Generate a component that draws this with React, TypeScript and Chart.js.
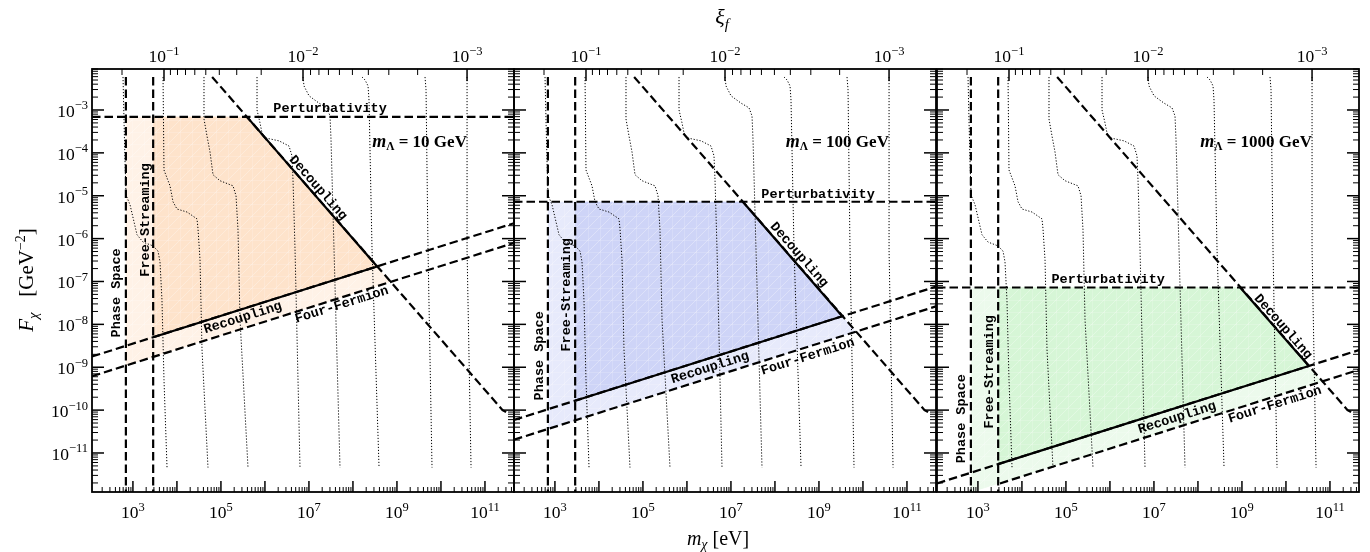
import React, { useEffect, useRef } from "react";
import { Chart, registerables } from "chart.js";

Chart.register(...registerables);

const CANVAS_W = 1370;
const CANVAS_H = 552;
const PANEL_LEFTS = [92, 514, 937];
const PANEL_W = 422;
const PANEL_TOP = 69;
const PANEL_BOTTOM = 492;

// axis ranges, log10 units
const X_RANGE_LOG = [2.07, 11.66];
const Y_RANGE_LOG = [-11.91, -2.044];

// ================= DATA (log10 mχ [eV], log10 Fχ [GeV^-2]) =================
const mLambdaGeV = ["10", "100", "1000"];
const bottomTickExponents = [3, 5, 7, 9, 11];
const leftTickExponents = [-3, -4, -5, -6, -7, -8, -9, -10, -11];
const xiMajorLabels = ["−1", "−2", "−3"];
const xiMajorLogMass = [3.706, 6.865, 10.593];
const xiMinorLogMass = [2.752, 3.852, 4.013, 4.195, 4.406, 4.656, 4.963, 5.359, 5.915,
  7.036, 7.227, 7.443, 7.693, 7.988, 8.35, 8.815, 9.47];

const perturbativity = [
  [[2.07, -3.16], [11.66, -3.16]],
  [[2.07, -5.14], [11.66, -5.14]],
  [[2.07, -7.14], [11.66, -7.14]],
];
const recoupling = [
  [[2.07, -8.75], [11.66, -5.64]],
  [[2.07, -10.23], [11.66, -7.12]],
  [[2.07, -11.71], [11.66, -8.6]],
];
const fourFermion = [
  [[2.07, -9.21], [11.66, -6.1]],
  [[2.07, -10.69], [11.66, -7.58]],
  [[3.5, -11.71], [11.66, -9.06]],
];
const decoupling = [[4.8, -2.23], [11.4, -10.0], [11.52, -10.07]];
const phaseSpace = [[2.84, -2.23], [2.84, -12.5]];
const freeStreaming = [[3.46, -2.23], [3.46, -12.5]];
const decouplingEdge = [
  [[5.59, -3.16], [8.55, -6.65]],
  [[7.27, -5.14], [9.53, -7.81]],
  [[8.96, -7.14], [10.52, -8.97]],
];
const recouplingEdge = [
  [[3.46, -8.3], [8.55, -6.65]],
  [[3.46, -9.78], [9.53, -7.81]],
  [[3.46, -11.26], [10.52, -8.97]],
];
const allowedRegion = [
  [[3.46, -8.3], [3.46, -3.16], [5.59, -3.16], [8.55, -6.65]],
  [[3.46, -9.78], [3.46, -5.14], [7.27, -5.14], [9.53, -7.81]],
  [[3.46, -11.26], [3.46, -7.14], [8.96, -7.14], [10.52, -8.97]],
];
const extendedRegion = [
  [[2.84, -8.96], [2.84, -3.16], [5.59, -3.16], [8.85, -7.01]],
  [[2.84, -10.44], [2.84, -5.14], [7.27, -5.14], [9.84, -8.17]],
  [[2.84, -11.92], [2.84, -7.14], [8.96, -7.14], [10.82, -9.34]],
];
// ξ_f contours (same in every panel)
const xiContour1 = [[2.775, -2.23], [2.797, -3.23], [2.82, -4.17], [2.843, -4.98], [2.934, -5.21], [3.093, -5.91], [3.229, -6.08], [3.456, -6.17], [3.57, -6.29], [3.615, -6.54], [3.66, -7.43], [3.706, -9.29], [3.775, -11.34]];
const xiContour2 = [[3.684, -2.23], [3.706, -4.4], [3.843, -4.77], [3.911, -5.14], [4.002, -5.31], [4.229, -5.38], [4.456, -5.54], [4.479, -5.77], [4.525, -6.5], [4.57, -8.59], [4.706, -11.34]];
const xiContour3 = [[4.615, -2.23], [4.615, -3.21], [4.684, -3.61], [4.752, -3.98], [4.82, -4.51], [4.979, -4.65], [5.275, -4.77], [5.343, -5.0], [5.388, -5.8], [5.434, -7.89], [5.615, -11.34]];
const xiContour4 = [[5.82, -2.23], [5.82, -3.0], [5.888, -3.3], [5.934, -3.54], [6.002, -3.65], [6.32, -3.72], [6.547, -3.84], [6.615, -4.07], [6.638, -4.63], [6.684, -6.26], [6.797, -11.34]];
const xiContour5 = [[6.865, -2.23], [6.888, -2.44], [7.002, -2.67], [7.229, -2.84], [7.411, -2.95], [7.479, -3.14], [7.502, -3.7], [7.57, -6.26], [7.706, -11.34]];
const xiContour6 = [[8.206, -2.23], [8.275, -2.3], [8.343, -2.44], [8.365, -2.77], [8.434, -6.26], [8.593, -11.34]];
const xiContour7 = [[9.638, -2.23], [9.661, -2.53], [9.706, -6.26], [9.797, -11.34]];
const xiContour8 = [[10.593, -2.23], [10.593, -6.26], [10.684, -11.34]];
const xiContours = [xiContour1, xiContour2, xiContour3, xiContour4, xiContour5, xiContour6, xiContour7, xiContour8];

// ================= STYLE / ANNOTATION PLACEMENT =================
const FILL_DARK = ["#fee3cb", "#ced4f7", "#d6f6d6"];
const FILL_LIGHT = ["#fff2e7", "#e7eafb", "#ecfaec"];
const SERIF = "'Liberation Serif', 'DejaVu Serif', serif";
const MONO = "'Liberation Mono', 'DejaVu Sans Mono', monospace";
const LABEL_FONT = `bold 13.5px ${MONO}`;

const LABEL_ANCHORS = {
  perturbativity: [[7.48, -2.976], [8.98, -4.981], [5.96, -6.962]],
  decoupling: [[7.206, -4.818], [8.547, -6.38], [9.934, -8.058]],
  recoupling: [[5.5, -7.848], [6.525, -9.014], [7.525, -10.18]],
  fourFermion: [[7.75, -7.545], [8.75, -8.757], [9.75, -9.876]],
  phaseSpace: [[2.638, -7.266], [2.66, -8.734], [2.638, -10.2]],
  freeStreaming: [[3.297, -5.564], [3.275, -7.312], [3.275, -9.107]],
  mLambda: [10.59, -3.746],
};

const toPts = (arr: number[][]) => arr.map(([a, b]) => ({ x: Math.pow(10, a), y: Math.pow(10, b) }));

function makePattern(base: string) {
  const c = document.createElement("canvas");
  c.width = 12;
  c.height = 12;
  const g = c.getContext("2d") as CanvasRenderingContext2D;
  g.fillStyle = base;
  g.fillRect(0, 0, 12, 12);
  g.strokeStyle = "rgba(255,255,255,0.38)";
  g.lineWidth = 0.8;
  g.beginPath();
  g.moveTo(0, 12); g.lineTo(12, 0);
  g.moveTo(-6, 6); g.lineTo(6, -6);
  g.moveTo(6, 18); g.lineTo(18, 6);
  g.stroke();
  g.strokeStyle = "rgba(255,255,255,0.22)";
  g.beginPath();
  g.moveTo(0, 0.5); g.lineTo(12, 0.5);
  g.moveTo(0.5, 0); g.lineTo(0.5, 12);
  g.stroke();
  return g.createPattern(c, "repeat");
}

type Run = { t: string; font: string; dy?: number };
function drawRuns(ctx: CanvasRenderingContext2D, runs: Run[], x: number, y: number, align: string) {
  let total = 0;
  const ws = runs.map((r) => {
    ctx.font = r.font;
    const w = ctx.measureText(r.t).width;
    total += w;
    return w;
  });
  let cx = align === "left" ? x : align === "center" ? x - total / 2 : x - total;
  ctx.textAlign = "left";
  ctx.textBaseline = "alphabetic";
  runs.forEach((r, i) => {
    ctx.font = r.font;
    ctx.fillText(r.t, cx, y + (r.dy || 0));
    cx += ws[i];
  });
}

const powRuns = (exp: string): Run[] => [
  { t: "10", font: `17.5px ${SERIF}` },
  { t: exp, font: `12.5px ${SERIF}`, dy: -7.5 },
];

function panelPlugin(k: number) {
  return {
    id: "panelDecor" + k,
    afterDatasetsDraw(chart: any) {
      const ctx: CanvasRenderingContext2D = chart.ctx;
      const xs = chart.scales.x;
      const ys = chart.scales.y;
      const P = (p: number[]) => ({ x: xs.getPixelForValue(Math.pow(10, p[0])), y: ys.getPixelForValue(Math.pow(10, p[1])) });
      const angleOf = (a: number[], b: number[]) => {
        const pa = P(a), pb = P(b);
        return Math.atan2(pb.y - pa.y, pb.x - pa.x);
      };
      const drawRot = (text: string, anchor: number[], angle: number) => {
        const p = P(anchor);
        ctx.save();
        ctx.translate(p.x, p.y);
        ctx.rotate(angle);
        ctx.font = LABEL_FONT;
        ctx.fillStyle = "#000";
        ctx.textAlign = "center";
        ctx.textBaseline = "middle";
        ctx.fillText(text, 0, 0);
        ctx.restore();
      };
      drawRot("Perturbativity", LABEL_ANCHORS.perturbativity[k], 0);
      drawRot("Decoupling", LABEL_ANCHORS.decoupling[k], angleOf(decoupling[0], decoupling[1]));
      drawRot("Recoupling", LABEL_ANCHORS.recoupling[k], angleOf(recoupling[k][0], recoupling[k][1]));
      drawRot("Four-Fermion", LABEL_ANCHORS.fourFermion[k], angleOf(fourFermion[k][0], fourFermion[k][1]));
      drawRot("Phase Space", LABEL_ANCHORS.phaseSpace[k], -Math.PI / 2);
      drawRot("Free-Streaming", LABEL_ANCHORS.freeStreaming[k], -Math.PI / 2);

      const m = P(LABEL_ANCHORS.mLambda);
      ctx.fillStyle = "#000";
      drawRuns(ctx, [
        { t: "m", font: `italic bold 18px ${SERIF}` },
        { t: "Λ", font: `bold 11.5px ${SERIF}`, dy: 3 },
        { t: " = " + mLambdaGeV[k] + " GeV", font: `bold 17px ${SERIF}` },
      ], m.x, m.y + 5, "right");
    },
    afterDraw(chart: any) {
      const ctx: CanvasRenderingContext2D = chart.ctx;
      const xs = chart.scales.x;
      const ys = chart.scales.y;
      const { left, right, top, bottom } = chart.chartArea;
      ctx.save();
      ctx.strokeStyle = "#000";
      ctx.fillStyle = "#000";
      const seg = (x1: number, y1: number, x2: number, y2: number, w: number) => {
        ctx.lineWidth = w;
        ctx.beginPath();
        ctx.moveTo(x1, y1);
        ctx.lineTo(x2, y2);
        ctx.stroke();
      };
      // bottom ticks
      for (let d = 2; d <= 11; d++) {
        for (let n = 1; n <= 9; n++) {
          const v = n * Math.pow(10, d);
          if (v < xs.min || v > xs.max) continue;
          const px = xs.getPixelForValue(v);
          seg(px, bottom, px, bottom - (n === 1 ? 11 : 5), n === 1 ? 1.5 : 1);
        }
      }
      // left / right ticks
      for (let d = -12; d <= -3; d++) {
        for (let n = 1; n <= 9; n++) {
          const v = n * Math.pow(10, d);
          if (v < ys.min || v > ys.max) continue;
          const py = ys.getPixelForValue(v);
          const len = n === 1 ? 12 : 6;
          const w = n === 1 ? 1.5 : 1;
          seg(left, py, left + len, py, w);
          seg(right, py, right - len, py, w);
        }
      }
      // top (ξ_f) ticks
      xiMajorLogMass.forEach((lm) => {
        const px = xs.getPixelForValue(Math.pow(10, lm));
        seg(px, top, px, top + 12, 1.5);
      });
      xiMinorLogMass.forEach((lm) => {
        const px = xs.getPixelForValue(Math.pow(10, lm));
        seg(px, top, px, top + 6, 1);
      });
      // frame
      ctx.lineWidth = 1.8;
      ctx.strokeRect(left, top, right - left, bottom - top);

      // tick labels
      bottomTickExponents.forEach((e) => {
        const px = xs.getPixelForValue(Math.pow(10, e));
        drawRuns(ctx, powRuns(String(e)), px, 518, "center");
      });
      xiMajorLogMass.forEach((lm, i) => {
        const px = xs.getPixelForValue(Math.pow(10, lm));
        drawRuns(ctx, powRuns(xiMajorLabels[i]), px, 62, "center");
      });
      if (k === 0) {
        leftTickExponents.forEach((e) => {
          const py = ys.getPixelForValue(Math.pow(10, e));
          drawRuns(ctx, powRuns("−" + String(-e)), left - 4, py + 7, "right");
        });
        // axis titles
        drawRuns(ctx, [
          { t: "ξ", font: `italic 22px ${SERIF}` },
          { t: "f", font: `italic 15px ${SERIF}`, dy: 5 },
        ], 722, 24, "center");
        drawRuns(ctx, [
          { t: "m", font: `italic 20px ${SERIF}` },
          { t: "χ", font: `italic 14px ${SERIF}`, dy: 4 },
          { t: " [eV]", font: `20px ${SERIF}` },
        ], 718, 545, "center");
        ctx.save();
        ctx.translate(33, 280);
        ctx.rotate(-Math.PI / 2);
        drawRuns(ctx, [
          { t: "F", font: `italic 21px ${SERIF}` },
          { t: "χ", font: `italic 15px ${SERIF}`, dy: 5 },
          { t: "   [GeV", font: `21px ${SERIF}` },
          { t: "−2", font: `14px ${SERIF}`, dy: -8 },
          { t: "]", font: `21px ${SERIF}` },
        ], 0, 0, "center");
        ctx.restore();
      }
      ctx.restore();
    },
  };
}

function buildConfig(k: number): any {
  const dashed = (pts: number[][]) => ({
    data: toPts(pts), borderColor: "#000", borderWidth: 2.2, borderDash: [8.5, 4],
    pointRadius: 0, fill: false, tension: 0, order: 0,
  });
  const solid = (pts: number[][]) => ({
    data: toPts(pts), borderColor: "#000", borderWidth: 2.2,
    pointRadius: 0, fill: false, tension: 0, order: 0,
  });
  const dotted = (pts: number[][]) => ({
    data: toPts(pts), borderColor: "#000", borderWidth: 1, borderDash: [1.2, 1.8],
    pointRadius: 0, fill: false, tension: 0, order: 1,
  });
  const datasets: any[] = [
    dashed(perturbativity[k]),
    dashed(recoupling[k]),
    dashed(fourFermion[k]),
    dashed(decoupling),
    dashed(phaseSpace),
    dashed(freeStreaming),
    solid(decouplingEdge[k]),
    solid(recouplingEdge[k]),
    ...xiContours.map(dotted),
    {
      data: toPts(allowedRegion[k]), borderColor: "rgba(0,0,0,0)", borderWidth: 0,
      backgroundColor: makePattern(FILL_DARK[k]), fill: "shape", pointRadius: 0, tension: 0, order: 9,
    },
    {
      data: toPts(extendedRegion[k]), borderColor: "rgba(0,0,0,0)", borderWidth: 0,
      backgroundColor: makePattern(FILL_LIGHT[k]), fill: "shape", pointRadius: 0, tension: 0, order: 10,
    },
  ];
  const L = PANEL_LEFTS[k];
  return {
    type: "line",
    data: { datasets },
    options: {
      responsive: false,
      animation: false,
      events: [],
      layout: {
        padding: { left: L, right: CANVAS_W - L - PANEL_W, top: PANEL_TOP, bottom: CANVAS_H - PANEL_BOTTOM },
      },
      plugins: { legend: { display: false }, tooltip: { enabled: false } },
      scales: {
        x: { type: "logarithmic", display: false, min: Math.pow(10, X_RANGE_LOG[0]), max: Math.pow(10, X_RANGE_LOG[1]) },
        y: { type: "logarithmic", display: false, min: Math.pow(10, Y_RANGE_LOG[0]), max: Math.pow(10, Y_RANGE_LOG[1]) },
      },
    },
    plugins: [panelPlugin(k)],
  };
}

export default function App() {
  const r0 = useRef<HTMLCanvasElement>(null);
  const r1 = useRef<HTMLCanvasElement>(null);
  const r2 = useRef<HTMLCanvasElement>(null);
  useEffect(() => {
    const refs = [r0, r1, r2];
    const charts = refs.map((r, k) => new Chart(r.current as HTMLCanvasElement, buildConfig(k)));
    return () => charts.forEach((c) => c.destroy());
  }, []);
  const cs: any = { position: "absolute", left: 0, top: 0 };
  return (
    <div style={{ position: "absolute", left: 0, top: 0, width: CANVAS_W, height: CANVAS_H, background: "#fff" }}>
      <canvas ref={r0} width={CANVAS_W} height={CANVAS_H} style={cs} />
      <canvas ref={r1} width={CANVAS_W} height={CANVAS_H} style={cs} />
      <canvas ref={r2} width={CANVAS_W} height={CANVAS_H} style={cs} />
    </div>
  );
}
